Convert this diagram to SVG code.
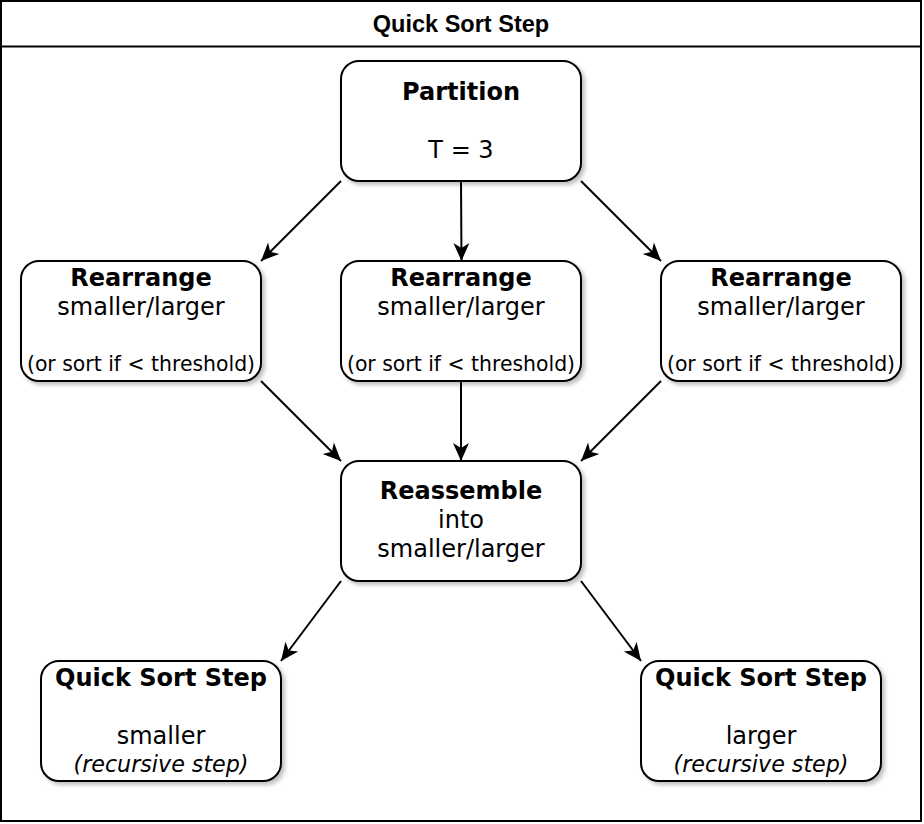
<svg xmlns="http://www.w3.org/2000/svg" width="924" height="824" viewBox="0 0 924 824">
  <defs>
    <filter id="shadow" x="-10%" y="-10%" width="130%" height="140%">
      <feDropShadow dx="3" dy="3" stdDeviation="2" flood-color="#000" flood-opacity="0.25"/>
    </filter>
    <marker id="arrow" markerUnits="userSpaceOnUse" markerWidth="22" markerHeight="22" viewBox="-20 -11 22 22" refX="0" refY="0" orient="auto">
      <path d="M0,0 L-18,-8 L-13,0 L-18,8 Z" fill="#000"/>
    </marker>
  </defs>
  <style>
    .box { fill: #fff; stroke: #000; stroke-width: 2; filter: url(#shadow); }
    .t { font-family: "DejaVu Sans", Verdana, sans-serif; font-size: 24px; fill: #000; text-anchor: middle; }
    .b { font-weight: bold; }
    .s { font-size: 20.4px; }
    .i { font-style: italic; font-size: 22.2px; }
    .edge { fill: none; stroke: #000; stroke-width: 2; marker-end: url(#arrow); }
    .title { font-family: "Liberation Sans", Arial, sans-serif; font-weight: bold; font-size: 23.5px; text-anchor: middle; fill: #000; }
  </style>
  <rect x="0" y="0" width="924" height="824" fill="#fff"/>
  <g id="container">
    <rect x="1" y="1" width="920" height="820" fill="#fff" stroke="#000" stroke-width="2"/>
    <line x1="1" y1="46.5" x2="921" y2="46.5" stroke="#000" stroke-width="2"/>
    <text class="title" x="461" y="31.5">Quick Sort Step</text>
  </g>
  <g id="connectors">
    <line class="edge" x1="341" y1="181" x2="261" y2="261"/>
    <line class="edge" x1="461" y1="181" x2="461.5" y2="261"/>
    <line class="edge" x1="581" y1="181" x2="661" y2="261"/>
    <line class="edge" x1="261" y1="381" x2="341" y2="461"/>
    <line class="edge" x1="461" y1="381" x2="461" y2="461"/>
    <line class="edge" x1="661" y1="381" x2="581" y2="461"/>
    <line class="edge" x1="341" y1="581" x2="281" y2="661"/>
    <line class="edge" x1="581" y1="581" x2="641" y2="661"/>
  </g>
  <g id="partition">
    <rect class="box" x="341" y="61" width="240" height="120" rx="18"/>
    <text class="t b" x="461" y="100">Partition</text>
    <text class="t" x="461" y="158">T = 3</text>
  </g>
  <g id="rearrange-left">
    <rect class="box" x="21" y="261" width="240" height="120" rx="18"/>
    <text class="t b" x="141" y="286">Rearrange</text>
    <text class="t" x="141" y="314.5">smaller/larger</text>
    <text class="t s" x="141" y="370.5">(or sort if &lt; threshold)</text>
  </g>
  <g id="rearrange-mid">
    <rect class="box" x="341" y="261" width="240" height="120" rx="18"/>
    <text class="t b" x="461" y="286">Rearrange</text>
    <text class="t" x="461" y="314.5">smaller/larger</text>
    <text class="t s" x="461" y="370.5">(or sort if &lt; threshold)</text>
  </g>
  <g id="rearrange-right">
    <rect class="box" x="661" y="261" width="240" height="120" rx="18"/>
    <text class="t b" x="781" y="286">Rearrange</text>
    <text class="t" x="781" y="314.5">smaller/larger</text>
    <text class="t s" x="781" y="370.5">(or sort if &lt; threshold)</text>
  </g>
  <g id="reassemble">
    <rect class="box" x="341" y="461" width="240" height="120" rx="18"/>
    <text class="t b" x="461" y="499">Reassemble</text>
    <text class="t" x="461" y="528">into</text>
    <text class="t" x="461" y="557">smaller/larger</text>
  </g>
  <g id="qs-smaller">
    <rect class="box" x="41" y="661" width="240" height="120" rx="18"/>
    <text class="t b" x="161" y="686">Quick Sort Step</text>
    <text class="t" x="161" y="744">smaller</text>
    <text class="t i" x="161" y="772">(recursive step)</text>
  </g>
  <g id="qs-larger">
    <rect class="box" x="641" y="661" width="240" height="120" rx="18"/>
    <text class="t b" x="761" y="686">Quick Sort Step</text>
    <text class="t" x="761" y="744">larger</text>
    <text class="t i" x="761" y="772">(recursive step)</text>
  </g>
</svg>
